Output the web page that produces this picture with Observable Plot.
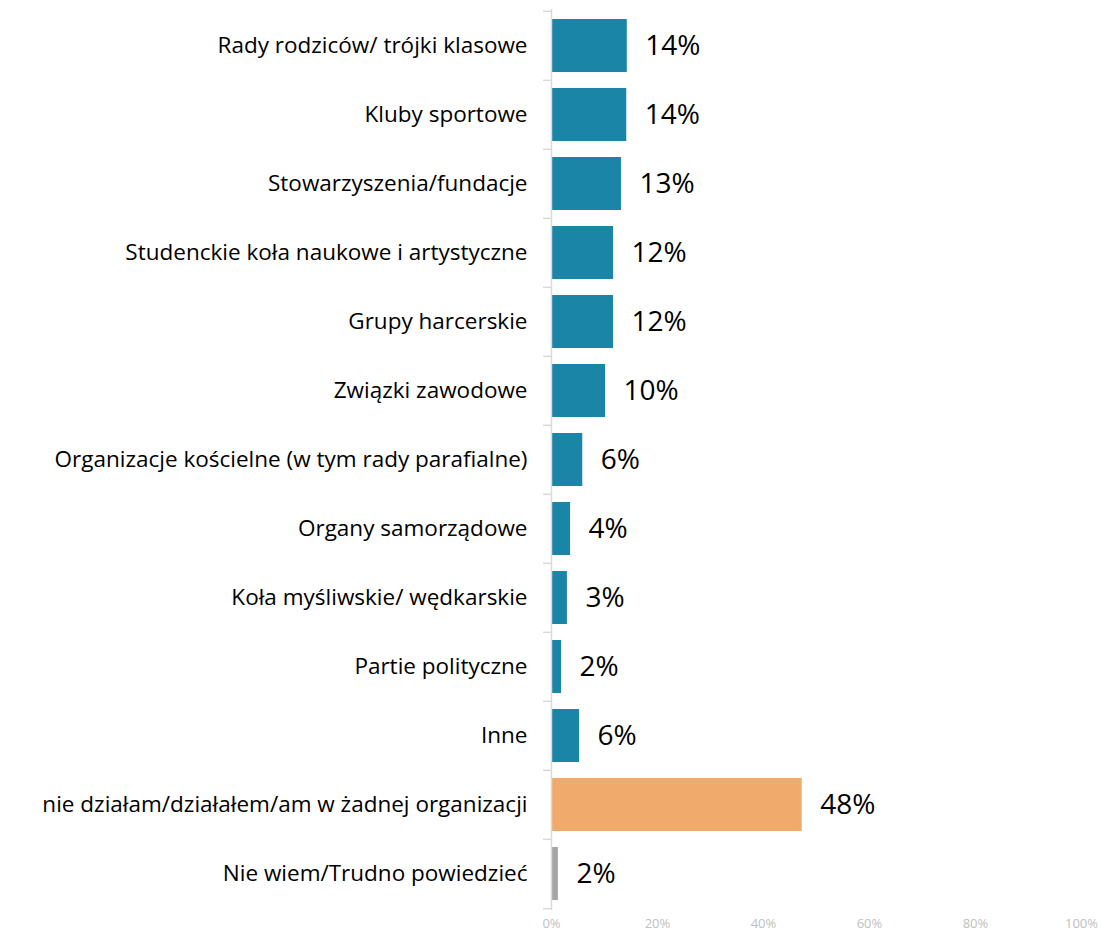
<!DOCTYPE html>
<html>
<head>
<meta charset="utf-8">
<script src="https://cdn.jsdelivr.net/npm/d3@7"></script>
<script src="https://cdn.jsdelivr.net/npm/@observablehq/plot@0.6"></script>
<style>
  html, body { margin: 0; padding: 0; background: #fff; }
  #chart svg { display: block; }
</style>
</head>
<body>
<div id="chart"></div>
<script>
const categories = [
  "Rady rodziców/ trójki klasowe",
  "Kluby sportowe",
  "Stowarzyszenia/fundacje",
  "Studenckie koła naukowe i artystyczne",
  "Grupy harcerskie",
  "Związki zawodowe",
  "Organizacje kościelne (w tym rady parafialne)",
  "Organy samorządowe",
  "Koła myśliwskie/ wędkarskie",
  "Partie polityczne",
  "Inne",
  "nie działam/działałem/am w żadnej organizacji",
  "Nie wiem/Trudno powiedzieć"
];
const values = [14.3, 14.2, 13.2, 11.7, 11.7, 10.2, 5.9, 3.6, 3.0, 1.9, 5.3, 47.3, 1.3];
const valueLabels = ["14%", "14%", "13%", "12%", "12%", "10%", "6%", "4%", "3%", "2%", "6%", "48%", "2%"];
const groups = ["org", "org", "org", "org", "org", "org", "org", "org", "org", "org", "org", "none", "dk"];
const xTicks = [0, 20, 40, 60, 80, 100];

const data = categories.map((c, i) => ({category: c, value: values[i], label: valueLabels[i], group: groups[i]}));

const width = 1102, height = 934;
const marginTop = 9, marginBottom = 24, marginLeft = 551, marginRight = 21;
const step = (height - marginTop - marginBottom) / categories.length;
const tickLen = 8 / (width - marginLeft - marginRight) * 100;

const chart = Plot.plot({
  width, height, marginTop, marginBottom, marginLeft, marginRight,
  style: {fontFamily: "'Open Sans', sans-serif", background: "#fff"},
  x: {domain: [0, 100], axis: null},
  y: {domain: categories, paddingInner: 0.23, paddingOuter: 0.115, axis: null},
  color: {domain: ["org", "none", "dk"], range: ["#1a85a6", "#f0aa6b", "#a5a5a5"]},
  marks: [
    Plot.barX(data, {y: "category", x: "value", fill: "group"}),
    Plot.ruleX([0], {stroke: "#d9d9d9", strokeWidth: 1.5}),
    Plot.ruleY(categories, {y: d => d, x1: -tickLen, x2: 0, dy: -step / 2, stroke: "#d9d9d9", strokeWidth: 1.5}),
    Plot.ruleY([categories[categories.length - 1]], {y: d => d, x1: -tickLen, x2: 0, dy: step / 2, stroke: "#d9d9d9", strokeWidth: 1.5}),
    Plot.text(data, {y: "category", x: "value", text: "label", textAnchor: "start", dx: 18, fontSize: 28, fill: "#000"}),
    Plot.axisY({tickSize: 0, tickPadding: 24, fontSize: 22.5, color: "#000", label: null, style: {letterSpacing: "0.7px"}}),
    Plot.axisX({ticks: xTicks, tickFormat: d => d + "%", tickSize: 0, tickPadding: 8, fontSize: 13, color: "#c0c0c0", label: null})
  ]
});
document.getElementById("chart").appendChild(chart);
</script>
</body>
</html>
